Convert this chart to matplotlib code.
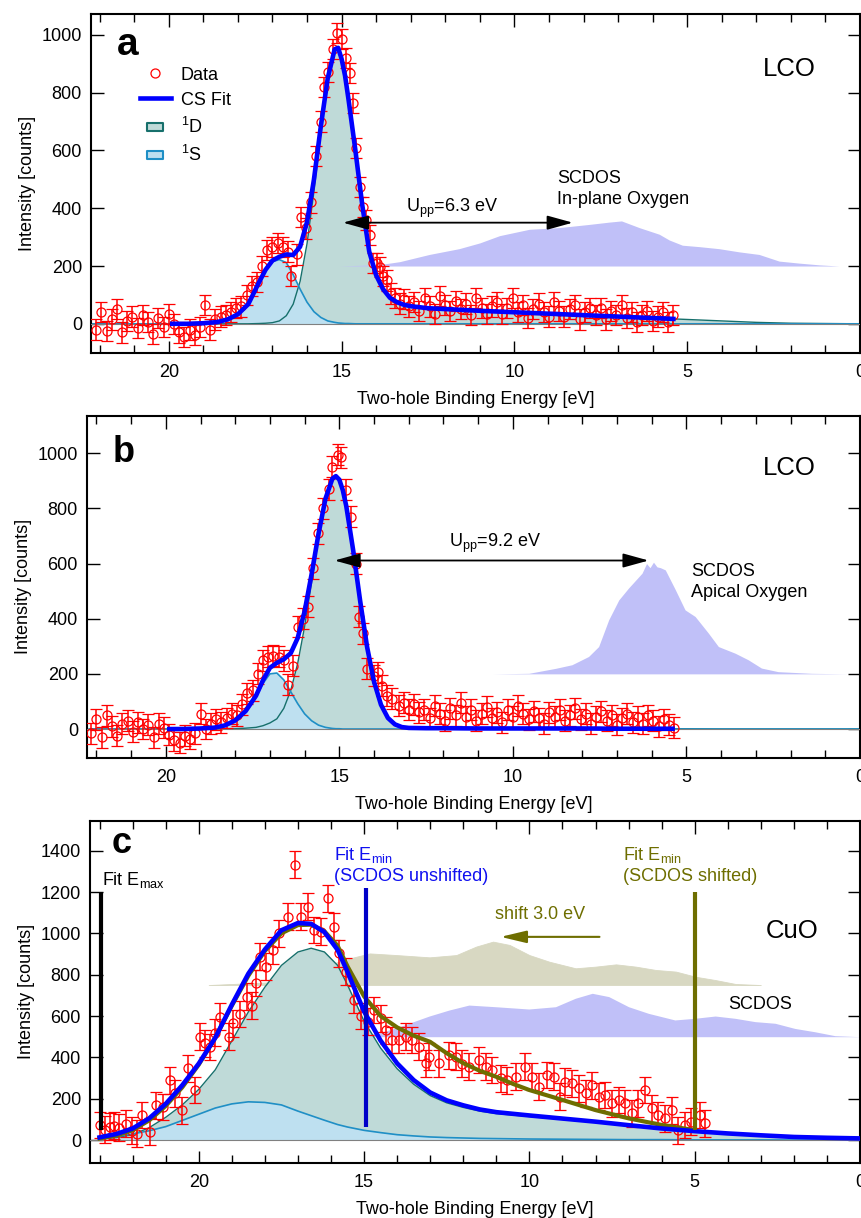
import numpy as np
import matplotlib.pyplot as plt
from matplotlib.ticker import MultipleLocator
from matplotlib.lines import Line2D
from matplotlib.path import Path

plt.rcParams['font.family'] = ['Liberation Sans', 'DejaVu Sans']
plt.rcParams['mathtext.fontset'] = 'custom'
plt.rcParams['mathtext.rm'] = 'Liberation Sans'
plt.rcParams['mathtext.it'] = 'Liberation Sans:italic'
plt.rcParams['mathtext.bf'] = 'Liberation Sans:bold'

# ---------------- DATA ----------------
# panel a : LCO, in-plane oxygen
e_a = [22.1, 21.95, 21.8, 21.65, 21.5, 21.35, 21.2, 21.05, 20.9, 20.75,
       20.6, 20.45, 20.3, 20.15, 20.0, 19.85, 19.7, 19.55, 19.4, 19.25,
       19.1, 18.95, 18.8, 18.65, 18.5, 18.35, 18.2, 18.05, 17.9, 17.75,
       17.6, 17.45, 17.3, 17.15, 17.0, 16.85, 16.7, 16.55, 16.45, 16.3,
       16.16, 16.02, 15.88, 15.73, 15.6, 15.5, 15.4, 15.25, 15.13, 15.0,
       14.88, 14.77, 14.67, 14.58, 14.48, 14.38, 14.28, 14.19, 14.1, 13.98,
       13.9, 13.8, 13.7, 13.56, 13.45, 13.32, 13.2, 13.05, 12.9, 12.75,
       12.6, 12.45, 12.3, 12.15, 12.0, 11.85, 11.7, 11.55, 11.4, 11.25,
       11.1, 10.95, 10.8, 10.65, 10.5, 10.35, 10.2, 10.05, 9.9, 9.75,
       9.6, 9.45, 9.3, 9.15, 9.0, 8.85, 8.7, 8.55, 8.4, 8.25,
       8.1, 7.95, 7.8, 7.65, 7.5, 7.35, 7.2, 7.05, 6.9, 6.75,
       6.6, 6.45, 6.3, 6.15, 6.0, 5.85, 5.7, 5.55, 5.4]
i_a = [-20, 40, -25, 15, 50, -30, 10, 25, -15, 30,
       5, -35, 20, -10, 35, 0, -30, -45, -20, -40,
       -10, 65, -20, 15, 25, 30, 40, 55, 60, 100,
       130, 145, 200, 255, 265, 280, 265, 250, 165, 240,
       370, 330, 420, 580, 700, 820, 870, 950, 1005, 985,
       920, 867, 763, 608, 474, 405, 360, 307, 210, 210,
       197, 165, 150, 105, 90, 70, 85, 60, 75, 45,
       90, 60, 35, 95, 65, 45, 80, 50, 70, 30,
       90, 55, 35, 60, 75, 35, 55, 90, 40, 65,
       20, 50, 70, 40, 25, 75, 45, 25, 50, 65,
       15, 40, 55, 30, 55, 15, 45, 30, 65, 20,
       40, 5, 30, 45, 10, 25, 40, 5, 30]
err_a = 35

# panel b : LCO, apical oxygen
e_b = [22.15, 22.0, 21.85, 21.7, 21.55, 21.4, 21.25, 21.1, 20.95, 20.8,
       20.65, 20.5, 20.35, 20.2, 20.05, 19.9, 19.75, 19.6, 19.45, 19.3,
       19.15, 19.0, 18.85, 18.7, 18.55, 18.4, 18.25, 18.1, 17.95, 17.8,
       17.65, 17.5, 17.35, 17.2, 17.05, 16.9, 16.75, 16.6, 16.47, 16.33,
       16.19, 16.05, 15.9, 15.76, 15.61, 15.46, 15.31, 15.2, 15.05, 14.95,
       14.81, 14.67, 14.52, 14.43, 14.33, 14.19, 14.0, 13.88, 13.77, 13.62,
       13.48, 13.29, 13.15, 13.0, 12.85, 12.7, 12.55, 12.4, 12.25, 12.1,
       11.95, 11.8, 11.65, 11.5, 11.35, 11.2, 11.05, 10.9, 10.75, 10.6,
       10.45, 10.3, 10.15, 10.0, 9.85, 9.7, 9.55, 9.4, 9.25, 9.1,
       8.95, 8.8, 8.65, 8.5, 8.35, 8.2, 8.05, 7.9, 7.75, 7.6,
       7.45, 7.3, 7.15, 7.0, 6.85, 6.7, 6.55, 6.4, 6.25, 6.1,
       5.95, 5.8, 5.65, 5.5, 5.35]
i_b = [-15, 35, -30, 50, 10, -25, 20, 30, -10, 25,
       0, 15, -30, 20, 5, -20, -40, -50, -25, -35,
       -15, 55, 0, 20, 35, 25, 40, 55, 50, 90,
       130, 140, 200, 250, 262, 265, 262, 250, 160, 229,
       371, 400, 444, 583, 710, 800, 870, 951, 995, 985,
       867, 770, 600, 407, 347, 218, 193, 205, 157, 120,
       110, 85, 95, 70, 90, 60, 70, 40, 85, 55,
       30, 75, 50, 95, 45, 70, 30, 55, 80, 40,
       60, 25, 70, 45, 85, 55, 35, 65, 40, 20,
       60, 45, 70, 30, 50, 75, 35, 55, 20, 45,
       65, 30, 50, 15, 40, 55, 25, 45, 20, 50,
       30, 10, 35, 15, 5]
err_b = 38

# panel c : CuO
e_c = [22.99, 22.85, 22.7, 22.55, 22.4, 22.2, 22.03, 21.88, 21.73, 21.48,
       21.28, 21.08, 20.87, 20.72, 20.52, 20.32, 20.12, 19.97, 19.81, 19.66,
       19.5, 19.35, 19.1, 18.95, 18.75, 18.55, 18.4, 18.26, 18.16, 17.96,
       17.76, 17.56, 17.31, 17.1, 16.9, 16.7, 16.5, 16.3, 16.1, 15.9,
       15.75, 15.55, 15.3, 15.1, 14.89, 14.7, 14.5, 14.35, 14.15, 13.94,
       13.74, 13.54, 13.35, 13.14, 13.03, 12.73, 12.43, 12.23, 12.03, 11.83,
       11.52, 11.32, 11.12, 10.87, 10.67, 10.42, 10.12, 9.91, 9.71, 9.46,
       9.26, 9.06, 8.91, 8.71, 8.51, 8.3, 8.1, 7.9, 7.7, 7.5,
       7.3, 7.1, 6.9, 6.7, 6.5, 6.3, 6.1, 5.9, 5.7, 5.5,
       5.3, 5.1, 4.85, 4.7]
i_c = [73, 50, 65, 70, 60, 80, 45, 30, 121, 40,
       169, 160, 290, 226, 145, 347, 242, 500, 468, 450,
       520, 597, 500, 565, 610, 694, 650, 760, 887, 839,
       919, 1000, 1081, 1331, 1081, 1129, 1016, 1008, 1170, 1032,
       903, 815, 678, 600, 573, 629, 589, 532, 484, 484,
       500, 484, 452, 371, 403, 371, 411, 403, 370, 355,
       387, 355, 339, 298, 290, 306, 355, 306, 258, 315,
       306, 210, 282, 274, 250, 226, 266, 210, 218, 177,
       194, 177, 129, 177, 242, 153, 121, 105, 145, 48,
       73, 89, 121, 81]
err_c = 65

# fitted components, panels a and b (same energy grid)
grid_ab = [22.2, 20.0, 19.9, 19.5, 19.0, 18.6, 18.3, 18.0, 17.7, 17.4,
           17.2, 17.0, 16.8, 16.6, 16.4, 16.2, 16.0, 15.8, 15.6, 15.4,
           15.2, 15.1, 15.0, 14.9, 14.8, 14.6, 14.4, 14.2, 14.0, 13.8,
           13.6, 13.4, 13.2, 13.0, 12.5, 12.0, 11.0, 10.0, 9.0, 8.0,
           7.0, 6.0, 5.4, 5.0, 4.0, 3.0, 2.0, 1.0, 0.0]
d1_a = [0, 0, 0, 0, 0, 0, 0, 0, 0, 1,
        2, 4, 10, 28, 68, 147, 277, 457, 662, 840,
        945, 952, 915, 858, 776, 600, 410, 250, 168, 120,
        90, 75, 66, 61, 54, 51, 45, 40, 35, 30,
        25, 20, 17, 15, 10, 5, 2, 1, 0]
s1_a = [0, 0, 0, 0, 2, 6, 15, 33, 68, 140,
        185, 215, 222, 212, 170, 120, 75, 42, 22, 10,
        5, 3, 2, 1, 1, 0, 0, 0, 0, 0,
        0, 0, 0, 0, 0, 0, 0, 0, 0, 0,
        0, 0, 0, 0, 0, 0, 0, 0, 0]
d1_b = [0, 0, 0, 0, 0, 0, 0, 1, 3, 6,
        12, 22, 37, 75, 140, 238, 372, 531, 694, 829,
        906, 916, 903, 866, 808, 647, 464, 297, 171, 88,
        40, 17, 7, 4, 3, 3, 2, 2, 2, 2,
        1, 1, 1, 1, 0, 0, 0, 0, 0]
s1_b = [0, 0, 0, 0, 2, 5, 13, 30, 62, 115,
        165, 200, 203, 178, 135, 92, 55, 30, 14, 6,
        2, 1, 1, 0, 0, 0, 0, 0, 0, 0,
        0, 0, 0, 0, 0, 0, 0, 0, 0, 0,
        0, 0, 0, 0, 0, 0, 0, 0, 0]
fit_range_ab = (5.4, 19.9)

# fitted components, panel c
grid_c = [23.0, 22.5, 22.0, 21.5, 21.0, 20.5, 20.0, 19.5, 19.0, 18.5,
          18.0, 17.5, 17.0, 16.6, 16.2, 15.8, 15.5, 15.0, 14.5, 14.0,
          13.5, 13.0, 12.5, 12.0, 11.5, 11.0, 10.0, 9.0, 8.0, 7.0,
          6.0, 5.0, 4.0, 3.0, 2.0, 1.0, 0.0]
d1_c = [5, 12, 26, 60, 110, 170, 245, 340, 480, 620,
        740, 845, 910, 928, 910, 845, 750, 575, 445, 345,
        270, 215, 180, 158, 140, 128, 114, 100, 86, 70,
        54, 42, 31, 22, 15, 11, 8]
s1_c = [8, 17, 30, 45, 65, 95, 125, 155, 175, 185,
        182, 170, 140, 118, 96, 75, 63, 47, 36, 26,
        20, 15, 12, 10, 8, 7, 5, 4, 3, 2,
        2, 1, 1, 1, 0, 0, 0]
# fit with shifted SCDOS (olive)
ol_e = [23.0, 22.5, 22.0, 21.5, 21.0, 20.5, 20.0, 19.5, 19.0, 18.5,
        18.0, 17.5, 17.0, 16.6, 16.2, 15.8, 15.5, 15.0, 14.5, 14.0,
        13.5, 13.0, 12.5, 12.0, 11.5, 11.0, 10.5, 10.0, 9.0, 8.0,
        7.0, 6.0, 5.0]
ol_i = [8, 22, 48, 95, 165, 255, 365, 495, 650, 795,
        915, 1000, 1040, 1042, 1010, 940, 840, 695, 600, 545,
        505, 475, 420, 372, 335, 306, 272, 242, 194, 145,
        105, 73, 48]

# SCDOS curves (height above their offset baseline)
dos_a_e = [15.06, 13.9, 13.32, 12.46, 11.6, 11.0, 10.43, 9.57, 8.7, 7.83,
           7.25, 6.9, 6.39, 5.81, 5.52, 5.14, 4.65, 4.08, 3.5, 2.92,
           2.34, 1.76, 1.18, 0.6]
dos_a_h = [0, 5, 15, 40, 60, 80, 105, 127, 133, 144,
           152, 156, 133, 110, 90, 72, 67, 60, 49, 40,
           17, 10, 4, 0]
dos_a_base = 200
dos_b_e = [10.6, 9.54, 8.77, 8.3, 7.82, 7.53, 7.24, 6.95, 6.67, 6.28,
           6.15, 6.05, 5.95, 5.85, 5.75, 5.61, 5.32, 5.04, 4.75, 4.37,
           4.08, 3.6, 3.22, 2.84, 2.36, 1.4, 0.34]
dos_b_h = [0, 2, 20, 33, 63, 99, 196, 268, 311, 365,
           400, 385, 405, 388, 385, 377, 305, 232, 208, 148,
           99, 75, 51, 21, 8, 2, 0]
dos_b_base = 200
dos_c_e = [16.7, 14.6, 13.94, 13.03, 12.43, 11.83, 11.02, 10.02, 9.21, 8.61,
           8.1, 7.6, 7.0, 6.4, 5.6, 5.0, 4.38, 3.78, 3.18, 2.57,
           1.97, 1.37, 0.76, 0.0]
dos_c_h = [0, 15, 48, 100, 129, 153, 145, 134, 145, 186,
           210, 194, 145, 113, 81, 89, 100, 89, 73, 65,
           40, 24, 5, 0]
dos_c_base = 500
dos_c_shift = 3.0
dos_c_shift_base = 750

# fit window markers, panel c
emax_c = 22.95
emin_unshifted = 14.95
emin_shifted = 5.0

# ---------------- colours ----------------
RED = '#ff0000'
FIT = '#0000ff'
D_FILL = '#bfdad8'
D_EDGE = '#17706c'
S_FILL = '#bee0f0'
S_EDGE = '#1f8fc6'
DOS = '#c0c0f8'
DOS_SH = '#d8d8c2'
OLIVE = '#6e6e00'
VBLUE = '#0000c8'

fig = plt.figure(figsize=(8.61, 12.18), dpi=100)
W, H = 861, 1218
ax_a = fig.add_axes([91 / W, (H - 353) / H, (860 - 91) / W, 339 / H])
ax_b = fig.add_axes([87 / W, (H - 757.7) / H, (860 - 87) / W, 341.7 / H])
ax_c = fig.add_axes([90 / W, (H - 1163) / H, (860 - 90) / W, 342.3 / H])


def style(ax, xmax, ylo, yhi):
    ax.set_xlim(xmax, 0)
    ax.set_ylim(ylo, yhi)
    ax.xaxis.set_major_locator(MultipleLocator(5))
    ax.xaxis.set_minor_locator(MultipleLocator(1))
    ax.yaxis.set_major_locator(MultipleLocator(200))
    ax.tick_params(which='both', direction='in', top=True, right=True,
                   labelsize=13, width=1.0)
    ax.tick_params(which='major', length=9)
    ax.tick_params(which='minor', length=5.5)
    ax.tick_params(axis='x', pad=8)
    ax.tick_params(axis='y', pad=6.5)
    for s in ax.spines.values():
        s.set_linewidth(1.5)
    ax.set_xlabel('Two-hole Binding Energy [eV]', fontsize=13, labelpad=7)
    ax.set_ylabel('Intensity [counts]', fontsize=13, labelpad=4)
    ax.axhline(0, color='#808080', lw=0.8, zorder=2.7)


def components(ax, E, d1, s1):
    ax.fill_between(E, 0, d1, color=D_FILL, lw=0, zorder=2)
    ax.fill_between(E, 0, s1, color=S_FILL, lw=0, zorder=2.2)
    ax.plot(E, d1, color=D_EDGE, lw=1.0, zorder=2.4)
    ax.plot(E, s1, color=S_EDGE, lw=1.2, zorder=2.5)


def data(ax, E, I, err):
    ax.errorbar(E, I, yerr=err, fmt='o', ms=6.5, mfc='none', mec=RED, mew=0.9,
                ecolor=RED, elinewidth=1.1, capsize=4.5, capthick=1.1, zorder=4)


def harrow(ax, x0, x1, y, style_, color, lw):
    ax.annotate('', xy=(x0, y), xytext=(x1, y),
                arrowprops=dict(arrowstyle=style_, mutation_scale=15, lw=lw,
                                color=color, shrinkA=0, shrinkB=0), zorder=7)


# ---------------- panel a ----------------
E = np.array(grid_ab)
style(ax_a, 22.25, -101, 1072)
components(ax_a, E, d1_a, s1_a)
ax_a.fill_between(dos_a_e, dos_a_base, np.array(dos_a_h) + dos_a_base,
                  color=DOS, lw=0, zorder=2.6)
data(ax_a, e_a, i_a, err_a)
sel = (E >= fit_range_ab[0]) & (E <= fit_range_ab[1])
ax_a.plot(E[sel], (np.array(d1_a) + np.array(s1_a))[sel], color=FIT, lw=3.3,
          zorder=5)
harrow(ax_a, 14.96, 8.31, 350, '<|-|>,head_length=1.05,head_width=0.29', 'k', 1.3)
ax_a.text(13.15, 388, r'U$_{\mathrm{pp}}$=6.3 eV', fontsize=13, va='baseline')
ax_a.text(8.76, 487, 'SCDOS', fontsize=13, va='baseline')
ax_a.text(8.76, 414, 'In-plane Oxygen', fontsize=13, va='baseline')
ax_a.text(0.0338, 0.879, 'a', transform=ax_a.transAxes, fontsize=28,
          fontweight='bold', va='baseline')
ax_a.text(0.874, 0.838, 'LCO', transform=ax_a.transAxes, fontsize=18.5,
          va='center')

rect = Path([(-1, -0.55), (1, -0.55), (1, 0.55), (-1, 0.55), (-1, -0.55)],
            [Path.MOVETO, Path.LINETO, Path.LINETO, Path.LINETO, Path.CLOSEPOLY])
handles = [
    Line2D([], [], marker='o', ls='none', ms=6.5, mfc='none', mec=RED, mew=0.9),
    Line2D([], [], color=FIT, lw=3.3),
    Line2D([], [], marker=rect, ls='none', ms=11, mfc=D_FILL, mec=D_EDGE, mew=1.5),
    Line2D([], [], marker=rect, ls='none', ms=11, mfc=S_FILL, mec=S_EDGE, mew=1.5),
]
ax_a.legend(handles, ['Data', 'CS Fit', r'$^{1}$D', r'$^{1}$S'], loc='upper left',
            bbox_to_anchor=(0.0637, 0.845), frameon=False, fontsize=13,
            handlelength=1.7, handletextpad=0.55, labelspacing=0.45,
            borderpad=0, borderaxespad=0)

# ---------------- panel b ----------------
style(ax_b, 22.27, -104, 1135)
components(ax_b, E, d1_b, s1_b)
ax_b.fill_between(dos_b_e, dos_b_base, np.array(dos_b_h) + dos_b_base,
                  color=DOS, lw=0, zorder=2.6)
data(ax_b, e_b, i_b, err_b)
ax_b.plot(E[sel], (np.array(d1_b) + np.array(s1_b))[sel], color=FIT, lw=3.3,
          zorder=5)
harrow(ax_b, 15.14, 6.09, 611, '<|-|>,head_length=1.05,head_width=0.29', 'k', 1.3)
ax_b.text(11.84, 661, r'U$_{\mathrm{pp}}$=9.2 eV', fontsize=13, va='baseline')
ax_b.text(4.86, 555, 'SCDOS', fontsize=13, va='baseline')
ax_b.text(4.86, 480, 'Apical Oxygen', fontsize=13, va='baseline')
ax_b.text(0.0336, 0.865, 'b', transform=ax_b.transAxes, fontsize=26,
          fontweight='bold', va='baseline')
ax_b.text(0.8745, 0.848, 'LCO', transform=ax_b.transAxes, fontsize=18.5,
          va='center')

# ---------------- panel c ----------------
Ec = np.array(grid_c)
style(ax_c, 23.29, -111, 1545)
# SCDOS curves sit behind the fitted components here
ax_c.fill_between(np.array(dos_c_e) + dos_c_shift, dos_c_shift_base,
                  np.array(dos_c_h) + dos_c_shift_base, color=DOS_SH, lw=0.6,
                  edgecolor=DOS_SH, zorder=1.5)
ax_c.fill_between(dos_c_e, dos_c_base, np.array(dos_c_h) + dos_c_base,
                  color=DOS, lw=0, zorder=1.5)
components(ax_c, Ec, d1_c, s1_c)
data(ax_c, e_c, i_c, err_c)
ax_c.plot(ol_e, ol_i, color=OLIVE, lw=3.0, zorder=4.8)
ax_c.plot(Ec, np.array(d1_c) + np.array(s1_c), color=FIT, lw=3.3, zorder=5)
ax_c.vlines(emax_c, 48, 1202, color='k', lw=3, zorder=6)
ax_c.vlines(emin_unshifted, 64, 1218, color=VBLUE, lw=3, zorder=6)
ax_c.vlines(emin_shifted, 48, 1202, color=OLIVE, lw=3, zorder=6)
harrow(ax_c, 10.87, 7.88, 983, '-|>,head_length=1.05,head_width=0.25', OLIVE, 1.5)
ax_c.text(22.93, 1234, r'Fit E$_{\mathrm{max}}$', fontsize=13, va='baseline')
ax_c.text(15.9, 1355, r'Fit E$_{\mathrm{min}}$', fontsize=13, va='baseline',
          color='#1010f0')
ax_c.text(15.9, 1255, '(SCDOS unshifted)', fontsize=13, va='baseline',
          color='#1010f0')
ax_c.text(7.17, 1355, r'Fit E$_{\mathrm{min}}$', fontsize=13, va='baseline',
          color=OLIVE)
ax_c.text(7.17, 1255, '(SCDOS shifted)', fontsize=13, va='baseline', color=OLIVE)
ax_c.text(11.05, 1068, 'shift 3.0 eV', fontsize=13, va='baseline', color=OLIVE)
ax_c.text(2.84, 976, 'CuO', fontsize=18.5, va='baseline')
ax_c.text(3.98, 632, 'SCDOS', fontsize=13, va='baseline')
ax_c.text(0.0285, 0.906, 'c', transform=ax_c.transAxes, fontsize=26,
          fontweight='bold', va='baseline')

fig.savefig('out.png', dpi=100)
